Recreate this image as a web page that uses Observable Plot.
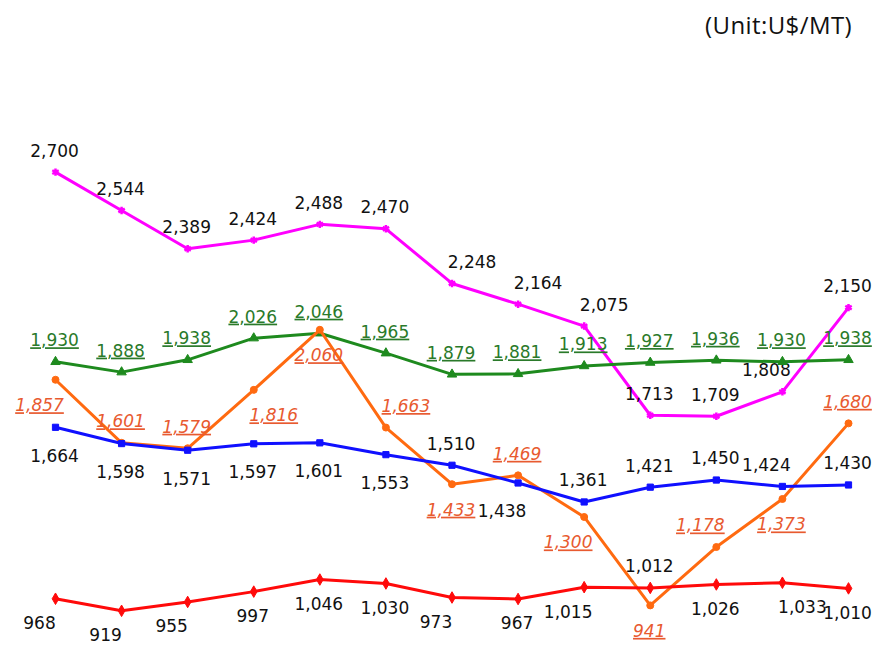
<!DOCTYPE html>
<html>
<head>
<meta charset="utf-8">
<script src="https://cdn.jsdelivr.net/npm/d3@7"></script>
<script src="https://cdn.jsdelivr.net/npm/@observablehq/plot@0.6"></script>
<style>
  body { margin: 0; background: #fff; }
  #wrap { position: relative; width: 883px; height: 645px; }
  #unit { position: absolute; right: 31px; top: 8px; font-family: "Open Sans", sans-serif; font-size: 24px; letter-spacing: 0.4px; color: #111; }
  .ul text { text-decoration: underline; }
</style>
</head>
<body>
<div id="wrap"><div id="unit">(Unit:U$/MT)</div></div>
<script>
const periods = d3.range(13);
const magentaValues = [2700, 2544, 2389, 2424, 2488, 2470, 2248, 2164, 2075, 1713, 1709, 1808, 2150];
const greenValues   = [1930, 1888, 1938, 2026, 2046, 1965, 1879, 1881, 1913, 1927, 1936, 1930, 1938];
const orangeValues  = [1857, 1601, 1579, 1816, 2060, 1663, 1433, 1469, 1300, 941, 1178, 1373, 1680];
const blueValues    = [1664, 1598, 1571, 1597, 1601, 1553, 1510, 1438, 1361, 1421, 1450, 1424, 1430];
const redValues     = [968, 919, 955, 997, 1046, 1030, 973, 967, 1015, 1012, 1026, 1033, 1010];

// label placement relative to point: a=above, b=below, l/r = shifted left/right
const magentaLabelSide = ["a","a","a","a","a","a","ar","ar","ar","a","a","al","a"];
const greenLabelSide   = ["a","a","a","a","a","a","a","a","a","a","a","a","a"];
const orangeLabelSide  = ["bl","a","a","br","b","ar","b","a","bl","b","al","b","a"];
const blueLabelSide    = ["b","b","b","b","b","b","a","bl","a","a","a","al","a"];
const redLabelSide     = ["bl","bl","bl","b","b","b","bl","b","bl","a","b","br","b"];

const series = [
  {name: "magenta", values: magentaValues, sides: magentaLabelSide, color: "#ff00ff", symbol: "asterisk", text: "#111", italic: false, underline: false, below: 27},
  {name: "green", values: greenValues, sides: greenLabelSide, color: "#1e8a1e", symbol: "triangle", text: "#2a7a2a", italic: false, underline: true, below: 27},
  {name: "orange", values: orangeValues, sides: orangeLabelSide, color: "#ff6a10", symbol: "circle", text: "#e85a30", italic: true, underline: true, below: 26},
  {name: "blue", values: blueValues, sides: blueLabelSide, color: "#1010ff", symbol: "square", text: "#111", italic: false, underline: false, below: 29},
  {name: "red", values: redValues, sides: redLabelSide, color: "#ff0a0a", symbol: "diamond", text: "#111", italic: false, underline: false, below: 25}
];

const fmt = d3.format(",");
const marks = [];
for (const s of series) {
  const rows = periods.map(i => ({i, v: s.values[i], side: s.sides[i]}));
  marks.push(Plot.line(rows, {x: "i", y: "v", stroke: s.color, strokeWidth: 3}));
  marks.push(Plot.dot(rows, {x: "i", y: "v", fill: s.color, stroke: s.color, symbol: s.symbol, r: 3.5, strokeWidth: s.symbol === "asterisk" ? 2.5 : 1}));
  for (const side of ["a","ar","al","b","br","bl"]) {
    const sub = rows.filter(d => d.side === side);
    if (!sub.length) continue;
    const dy = side[0] === "a" ? -21 : s.below;
    const dx = side.length > 1 ? (side[1] === "r" ? 20 : -16) : -1;
    marks.push(Plot.text(sub, {
      x: "i", y: "v", text: d => fmt(d.v), dx, dy,
      fill: s.text, fontSize: 17, fontFamily: "DejaVu Sans, sans-serif",
      fontStyle: s.italic ? "italic" : "normal",
      className: s.underline ? "ul" : undefined
    }));
  }
}

const chart = Plot.plot({
  width: 883,
  height: 645,
  marginLeft: 55,
  marginRight: 35,
  marginTop: 147,
  marginBottom: 30,
  x: {domain: [0, 12], axis: null},
  y: {domain: [900, 2800], axis: null},
  style: {background: "transparent", overflow: "visible"},
  marks
});
// underline the green and orange labels
const ulColors = new Set(series.filter(s => s.underline).map(s => s.text));
d3.select(chart).selectAll("g").each(function() {
  const f = this.getAttribute("fill");
  if (f && ulColors.has(f) && this.querySelector("text")) {
    d3.select(this).selectAll("text").style("text-decoration", "underline");
  }
});
document.getElementById("wrap").prepend(chart);
</script>
</body>
</html>
